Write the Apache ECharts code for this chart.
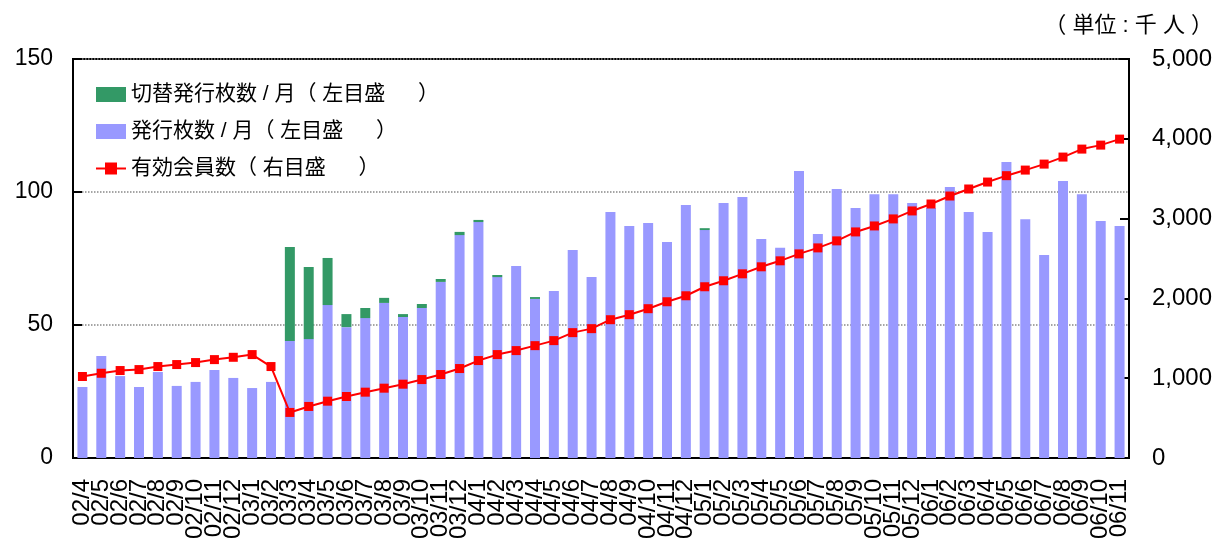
<!DOCTYPE html>
<html><head><meta charset="utf-8">
<script src="https://cdn.jsdelivr.net/npm/echarts@6/dist/echarts.min.js"></script>
<style>html,body{margin:0;padding:0;background:#fff}#c{width:1224px;height:539px}</style>
</head><body><div id="c"></div>
<script>
const categories = ["02/4","02/5","02/6","02/7","02/8","02/9","02/10","02/11","02/12",
"03/1","03/2","03/3","03/4","03/5","03/6","03/7","03/8","03/9","03/10","03/11","03/12",
"04/1","04/2","04/3","04/4","04/5","04/6","04/7","04/8","04/9","04/10","04/11","04/12",
"05/1","05/2","05/3","05/4","05/5","05/6","05/7","05/8","05/9","05/10","05/11","05/12",
"06/1","06/2","06/3","06/4","06/5","06/6","06/7","06/8","06/9","06/10","06/11"];
const issued = [26.7,38.3,30.8,26.7,32.3,27.1,28.6,33.1,30.1,
26.3,28.6,44.0,44.7,57.5,49.2,52.6,58.3,53.0,56.4,66.2,83.8,
88.7,68.0,72.2,59.8,62.8,78.2,68.0,92.5,87.2,88.3,81.2,95.1,
85.7,95.9,98.1,82.3,79.0,107.9,84.2,101.1,94.0,99.2,99.2,95.9,
94.0,101.9,92.5,85.0,111.3,89.8,76.3,104.1,99.2,89.1,87.2];
const switched = [0,0,0,0,0,0,0,0,0,
0,0,35.3,27.1,17.7,4.9,3.8,1.9,1.1,1.5,1.1,1.2,
0.8,0.8,0,0.7,0,0,0,0,0,0,0,0,
0.7,0,0,0,0,0,0,0,0,0,0,0,
0,0,0,0,0,0,0,0,0,0,0];
const members = [1021,1062,1096,1108,1146,1171,1196,1233,1262,
1296,1146,571,646,712,771,825,875,925,983,1046,1121,
1221,1296,1346,1408,1471,1571,1621,1733,1796,1871,1958,2033,
2146,2221,2308,2396,2471,2558,2633,2721,2833,2908,2996,3096,
3183,3283,3371,3458,3538,3608,3683,3771,3871,3921,3996];
const leftTicks = [0,50,100,150];
const rightTicks = [0,1000,2000,3000,4000,5000];
const names = ["切替発行枚数 / 月（ 左目盛　  ）","発行枚数 / 月（ 左目盛　  ）","有効会員数（ 右目盛　  ）"];

const FONT = "'Liberation Sans','Noto Sans CJK JP',sans-serif";
const chart = echarts.init(document.getElementById('c'), null, {renderer:'canvas'});
chart.setOption({
  animation:false,
  textStyle:{fontFamily:FONT,color:'#000'},
  title:{text:'（ 単位 : 千 人 ）',right:6,top:10,textStyle:{fontSize:22,fontWeight:'normal',color:'#000',fontFamily:FONT}},
  grid:{left:73,right:95,top:59,bottom:81,outerBoundsMode:'none',containLabel:false,show:true,borderColor:'#000',borderWidth:2,backgroundColor:'transparent'},
  legend:{
    orient:'vertical',left:90,top:79,itemWidth:30,itemHeight:15,itemGap:16,
    textStyle:{fontSize:21,color:'#000',fontFamily:FONT},
    data:[{name:names[0],icon:'rect'},{name:names[1],icon:'rect'},{name:names[2]}]
  },
  xAxis:{
    type:'category',data:categories,boundaryGap:true,
    axisLine:{lineStyle:{color:'#000',width:2}},
    axisTick:{inside:true,length:6,alignWithLabel:false,interval:0,lineStyle:{color:'#000',width:2}},
    axisLabel:{interval:0,rotate:90,margin:21,fontSize:24,color:'#000',fontFamily:FONT}
  },
  yAxis:[{
    type:'value',min:0,max:150,interval:50,position:'left',
    axisLine:{show:true,lineStyle:{color:'#000',width:2}},
    axisTick:{show:true,inside:true,length:9,lineStyle:{color:'#000',width:2}},
    axisLabel:{fontSize:23,color:'#000',margin:20,fontFamily:FONT},
    splitLine:{show:true,lineStyle:{color:'#888',type:'dotted',width:1.5}}
  },{
    type:'value',min:0,max:5000,interval:1000,position:'right',
    axisLine:{show:true,lineStyle:{color:'#000',width:2}},
    axisTick:{show:true,inside:true,length:9,lineStyle:{color:'#000',width:2}},
    axisLabel:{fontSize:24,color:'#000',margin:23,fontFamily:FONT,formatter:v=>v.toLocaleString('en-US')},
    splitLine:{show:false}
  }],
  series:[
    {name:names[1],type:'bar',stack:'a',yAxisIndex:0,data:issued,barWidth:10,itemStyle:{color:'#9999FF'}},
    {name:names[0],type:'bar',stack:'a',yAxisIndex:0,data:switched,barWidth:10,itemStyle:{color:'#339966'}},
    {name:names[2],type:'line',yAxisIndex:1,data:members,symbol:'rect',symbolSize:9,
     lineStyle:{color:'#FF0000',width:2},itemStyle:{color:'#FF0000'},z:5}
  ]
});
</script></body></html>
